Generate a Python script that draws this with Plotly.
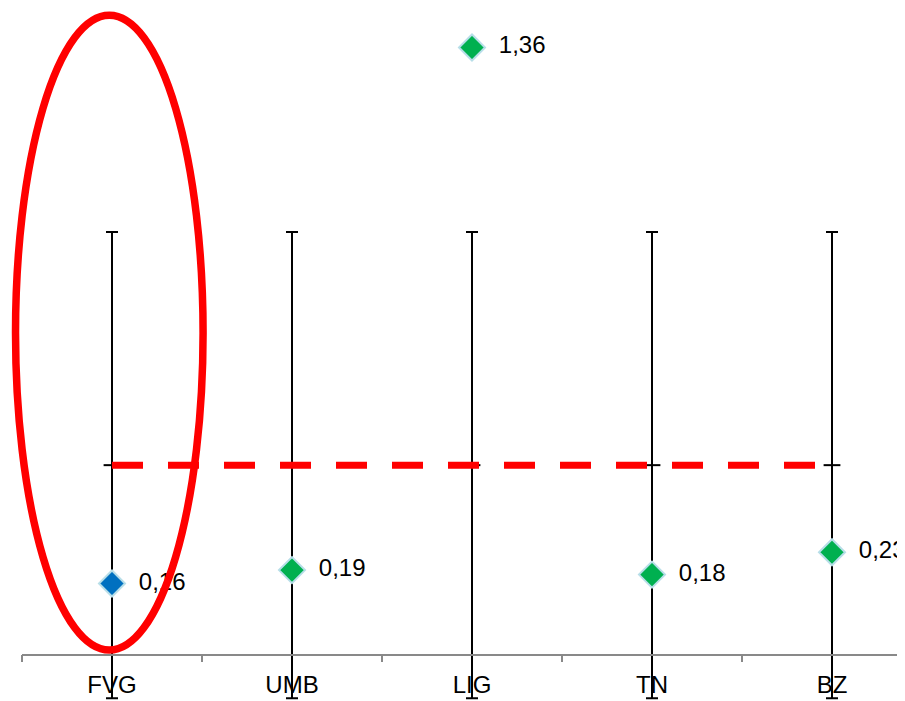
import plotly.graph_objects as go

# ---- data ----
categories = ["FVG", "UMB", "LIG", "TN", "BZ"]
values = [0.16, 0.19, 1.36, 0.18, 0.23]
value_labels = ["0,16", "0,19", "1,36", "0,18", "0,23"]
point_colors = ["#0070C0", "#00B050", "#00B050", "#00B050", "#00B050"]
reference_level = [0.425, 0.425, 0.425, 0.425, 0.425]
reference_error = [0.522, 0.522, 0.522, 0.522, 0.522]

# highlight ellipse around the first category (data coordinates)
ellipse_x = [-0.536, 0.506]
ellipse_y = [0.011, 1.432]

X_RANGE = [-0.5, 4.45]
Y_RANGE = [-0.1209, 1.4484]

FONT = "Liberation Sans, Arial, sans-serif"


def to_paper(v, rng):
    return (v - rng[0]) / (rng[1] - rng[0])


fig = go.Figure()

# reference series: dash markers with error bars
fig.add_trace(go.Scatter(
    x=categories, y=reference_level, mode="markers",
    marker=dict(symbol="line-ew", size=12, color="black",
                line=dict(color="black", width=2)),
    error_y=dict(type="data", array=reference_error, visible=True,
                 color="black", thickness=2, width=6),
    cliponaxis=False, showlegend=False, hoverinfo="skip",
))

# red dashed reference line
fig.add_trace(go.Scatter(
    x=[categories[0], categories[-1]],
    y=[reference_level[0], reference_level[-1]],
    mode="lines",
    line=dict(color="#FF0000", width=7, dash="31px,25px"),
    showlegend=False, hoverinfo="skip",
))

# data points
fig.add_trace(go.Scatter(
    x=categories, y=values, mode="markers+text",
    text=["  " + t for t in value_labels],
    textposition="middle right",
    textfont=dict(size=24, color="black", family=FONT),
    marker=dict(symbol="diamond", size=20, color=point_colors,
                line=dict(color="#B7DEE8", width=2)),
    cliponaxis=False, showlegend=False,
))

# ellipse in paper coordinates so it is not clipped by the plot area
fig.add_shape(type="circle", xref="paper", yref="paper",
              x0=to_paper(ellipse_x[0], X_RANGE), x1=to_paper(ellipse_x[1], X_RANGE),
              y0=to_paper(ellipse_y[0], Y_RANGE), y1=to_paper(ellipse_y[1], Y_RANGE),
              line=dict(color="#FF0000", width=7.5), layer="above")

fig.update_layout(
    width=905, height=701,
    margin=dict(l=14, r=0, t=0, b=0),
    plot_bgcolor="white", paper_bgcolor="white",
    showlegend=False,
    xaxis=dict(
        type="category", range=X_RANGE,
        anchor="free", position=0.0777,
        showline=True, linecolor="#898989", linewidth=1.5,
        ticks="outside", tickson="boundaries", ticklen=7,
        tickcolor="#898989", tickwidth=1.5,
        showgrid=False, zeroline=False,
        tickfont=dict(size=24, color="black", family=FONT),
        ticklabelstandoff=9,
    ),
    yaxis=dict(range=Y_RANGE, visible=False, showgrid=False,
               zeroline=False),
)

fig.write_html("out.html")
